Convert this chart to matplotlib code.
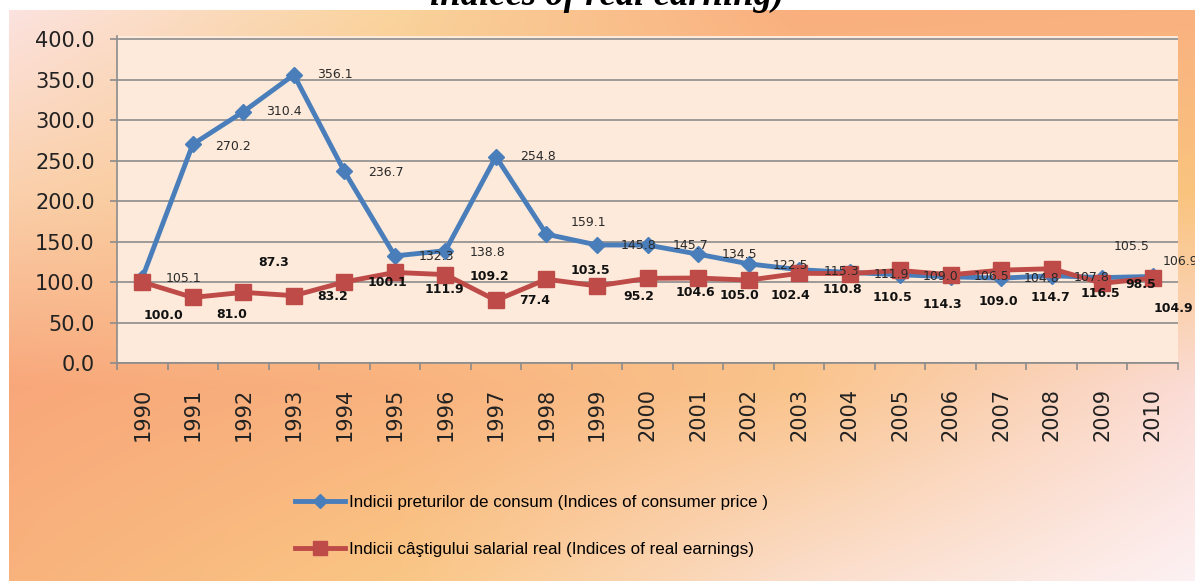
import numpy as np
import matplotlib
matplotlib.use("Agg")
import matplotlib.pyplot as plt
from matplotlib import font_manager

# ---------------- data ----------------
years = [str(y) for y in range(1990, 2011)]
cpi = [105.1, 270.2, 310.4, 356.1, 236.7, 132.3, 138.8, 254.8, 159.1, 145.8,
       145.7, 134.5, 122.5, 115.3, 111.9, 109.0, 106.5, 104.8, 107.8, 105.5, 106.9]
earn = [100.0, 81.0, 87.3, 83.2, 100.1, 111.9, 109.2, 77.4, 103.5, 95.2,
        104.6, 105.0, 102.4, 110.8, 110.5, 114.3, 109.0, 114.7, 116.5, 98.5, 104.9]
yticks = [0, 50, 100, 150, 200, 250, 300, 350, 400]

cpi_label = "Indicii preturilor de consum (Indices of consumer price )"
earn_label = "Indicii câştigului salarial real (Indices of real earnings)"
title_text = "indices of real earning)"

# data-label offsets in pixels (dx right, dy down) -- styling only
cpi_dx = [23, 22, 23, 23.5, 23.5, 23.5, 24, 24.5, 24, 23.5, 25, 24, 24, 24.5, 24, 22.5, 23, 22.5, 22, 11.5, 10]
cpi_dy = [1, 2, 0, 0, 1, 1, 2, 0, -12, 1, 0, 0, 2, 2, 2, 2, 0, 0, 2, -31, -15]
earn_dx = [1, 23, 15, 23.5, 23.5, 30, 24, 23.5, 24, 26.5, 28, 22, 22, 23.5, 23, 22.5, 28, 29.5, 29, 23.5, 1]
earn_dy = [33, 17, -30, 1, 1, 17, 2, 0, -9, 11, 14, 17, 15, 16, 24, 34, 27, 27, 25, 1, 30]

# ---------------- figure ----------------
W, H = 1195, 581
fig = plt.figure(figsize=(W / 100, H / 100), dpi=100)
fig.patch.set_facecolor("white")

# gradient background
def hex2rgb(h):
    h = h.lstrip("#")
    return [int(h[i:i + 2], 16) / 255 for i in (0, 2, 4)]

ctrl = np.array([
    [hex2rgb(c) for c in ["#FCE4E4", "#FAD39C", "#F9AE7E", "#F9B080"]],
    [hex2rgb(c) for c in ["#FAD0AC", "#FAC98E", "#F9BE86", "#FAC47E"]],
    [hex2rgb(c) for c in ["#F8A77A", "#F9B27E", "#FAC48C", "#FBDCD6"]],
    [hex2rgb(c) for c in ["#F8B27C", "#FAC684", "#FBDDCA", "#FDF1F3"]],
])
rows, cols = ctrl.shape[:2]
gx = np.linspace(0, 1, cols)
gy = np.linspace(0, 1, rows)
xs = np.linspace(0, 1, W)
ys = np.linspace(0, 1, H)
tmp = np.zeros((rows, W, 3))
for r in range(rows):
    for c in range(3):
        tmp[r, :, c] = np.interp(xs, gx, ctrl[r, :, c])
img = np.zeros((H, W, 3))
for c in range(3):
    for j in range(W):
        img[:, j, c] = np.interp(ys, gy, tmp[:, j, c])
img[:10, :, :] = 1.0
img[:, :9, :] = 1.0

bg = fig.add_axes([0, 0, 1, 1])
bg.imshow(img, extent=[0, 1, 0, 1], aspect="auto", origin="upper", interpolation="bilinear")
bg.set_xlim(0, 1)
bg.set_ylim(0, 1)
bg.axis("off")
bg.set_zorder(-10)

# cut-off title
fig.text(607 / W, 1 - 5 / H, title_text, ha="center", va="baseline",
         fontsize=26.5, fontweight="bold", fontstyle="italic",
         family=["Liberation Serif", "DejaVu Serif"], color="black")

# main axes
left, right, top, bottom = 117, 1178, 36, 363
ax = fig.add_axes([left / W, (H - bottom) / H, (right - left) / W, (bottom - top) / H])
ax.set_facecolor("#FDEADA")

x = np.arange(len(years))
blue = "#4A7EBB"
red = "#BE4B48"
ax.plot(x, cpi, color=blue, lw=3.5, marker="D", ms=8.5, mec=blue, mfc=blue,
        zorder=3, label=cpi_label)
ax.plot(x, earn, color=red, lw=3.5, marker="s", ms=12, mec=red, mfc=red,
        zorder=4, label=earn_label)

lab_kw = dict(textcoords="offset pixels", ha="left", va="center",
              fontsize=9, family="DejaVu Sans", zorder=6)
for i, v in enumerate(cpi):
    ax.annotate(f"{v:.1f}", (x[i], v), xytext=(cpi_dx[i], -cpi_dy[i]),
                color="#2a2a2a", **lab_kw)
for i, v in enumerate(earn):
    ax.annotate(f"{v:.1f}", (x[i], v), xytext=(earn_dx[i], -earn_dy[i]),
                color="#111111", fontweight="semibold", **lab_kw)

ax.set_xlim(-0.5, len(years) - 0.5)
ax.set_ylim(0, 404)
ax.set_yticks(yticks)
ax.set_yticklabels([f"{v:.1f}" for v in yticks])
ax.set_xticks(x)
ax.set_xticklabels(years, rotation=90)
ax.set_xticks(np.arange(-0.5, len(years), 1), minor=True)

grid_c = "#8C8C8C"
ax.yaxis.grid(True, color=grid_c, lw=1.2)
ax.set_axisbelow(True)
for s in ["top", "right"]:
    ax.spines[s].set_visible(False)
for s in ["left", "bottom"]:
    ax.spines[s].set_color(grid_c)
    ax.spines[s].set_linewidth(1.2)

ax.tick_params(axis="x", which="major", length=0, pad=18, labelsize=15, labelcolor="#222222")
ax.tick_params(axis="x", which="minor", length=5, width=1.2, color=grid_c, direction="out")
ax.tick_params(axis="y", length=5, width=1.2, color=grid_c, pad=11, labelsize=15, labelcolor="#222222")

# legend: pick a font size so the first entry spans ~418 px like the reference
avail = {f.name for f in font_manager.fontManager.ttflist}
leg_family = "Liberation Sans"
for cand in ["Liberation Sans Narrow", "DejaVu Sans Condensed", "Liberation Sans"]:
    if cand in avail:
        leg_family = cand
        break
renderer = fig.canvas.get_renderer()
probe = fig.text(0, 0, cpi_label, fontsize=12, family=leg_family)
wpx = probe.get_window_extent(renderer).width
probe.remove()
leg_fs = 12 * 418 / wpx
fs_px = leg_fs * 100 / 72

fig.legend(loc="center left", bbox_to_anchor=(295 / W, (H - 526) / H),
           frameon=False, borderpad=0, borderaxespad=0,
           handlelength=50 / fs_px, handletextpad=4 / fs_px,
           labelspacing=(52 - 1.2 * fs_px) / fs_px, markerscale=0.8,
           prop={"family": [leg_family, "DejaVu Sans"], "size": leg_fs})

fig.savefig("out.png", dpi=100)
